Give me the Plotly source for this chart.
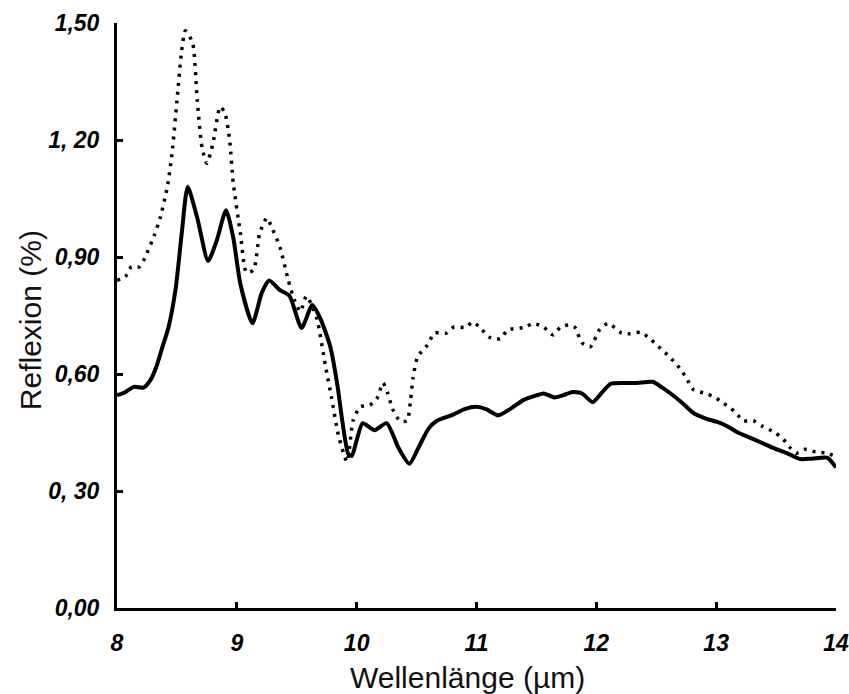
import plotly.graph_objects as go

# Solid curve (Wellenlänge in µm, Reflexion in %)
solid_x = [8.00, 8.06, 8.14, 8.22, 8.28, 8.33, 8.38, 8.43, 8.49, 8.54, 8.59, 8.67, 8.76, 8.83, 8.91, 8.97, 9.03,
           9.13, 9.21, 9.27, 9.36, 9.44, 9.54, 9.63, 9.70, 9.78, 9.84, 9.88, 9.93, 9.96, 10.00, 10.05,
           10.15, 10.25, 10.35, 10.44, 10.53, 10.60, 10.67, 10.80, 10.90, 11.00, 11.08, 11.18, 11.28,
           11.39, 11.50, 11.56, 11.65, 11.72, 11.80, 11.88, 11.97, 12.04, 12.12, 12.25, 12.34, 12.47,
           12.55, 12.62, 12.72, 12.81, 12.92, 13.01, 13.10, 13.18, 13.28, 13.37, 13.48, 13.59, 13.70,
           13.80, 13.93, 14.00]
solid_y = [0.546, 0.552, 0.567, 0.565, 0.585, 0.62, 0.67, 0.72, 0.82, 0.96, 1.08, 1.00, 0.89, 0.94, 1.02, 0.95, 0.83,
           0.73, 0.81, 0.84, 0.815, 0.80, 0.718, 0.777, 0.74, 0.67, 0.57, 0.48, 0.395, 0.39, 0.43, 0.474,
           0.456, 0.474, 0.41, 0.37, 0.42, 0.46, 0.48, 0.495, 0.51, 0.516, 0.51, 0.494, 0.51,
           0.533, 0.545, 0.55, 0.54, 0.545, 0.554, 0.55, 0.528, 0.55, 0.575, 0.577, 0.577, 0.58,
           0.565, 0.55, 0.525, 0.50, 0.485, 0.477, 0.465, 0.45, 0.437, 0.425, 0.41, 0.397, 0.382,
           0.383, 0.385, 0.36]

# Dotted curve
dot_x = [8.00, 8.07, 8.12, 8.19, 8.25, 8.31, 8.36, 8.42, 8.46, 8.50, 8.54, 8.57, 8.63, 8.67, 8.71, 8.75,
         8.80, 8.86, 8.90, 8.94, 8.97, 9.03, 9.08, 9.14, 9.19, 9.25, 9.30, 9.36, 9.43, 9.48, 9.53,
         9.58, 9.62, 9.67, 9.74, 9.79, 9.85, 9.92, 9.97, 10.03, 10.11, 10.17, 10.22, 10.26, 10.30,
         10.36, 10.42, 10.45, 10.47, 10.51, 10.59, 10.65, 10.75, 10.81, 10.92, 10.96, 11.03, 11.10,
         11.20, 11.26, 11.41, 11.47, 11.56, 11.64, 11.70, 11.77, 11.82, 11.88, 11.95, 12.03, 12.10,
         12.21, 12.28, 12.37, 12.45, 12.52, 12.59, 12.66, 12.72, 12.76, 12.81, 12.91, 12.99, 13.06,
         13.12, 13.18, 13.22, 13.31, 13.38, 13.49, 13.56, 13.62, 13.67, 13.74, 13.83, 13.93, 14.00]
dot_y = [0.84, 0.85, 0.875, 0.875, 0.91, 0.955, 1.00, 1.08, 1.167, 1.30, 1.43, 1.48, 1.45, 1.30, 1.18, 1.14,
         1.19, 1.285, 1.27, 1.20, 1.09, 0.96, 0.86, 0.867, 0.96, 1.00, 0.97, 0.925, 0.84, 0.79, 0.76,
         0.80, 0.78, 0.74, 0.62, 0.54, 0.44, 0.375, 0.48, 0.516, 0.52, 0.538, 0.577, 0.55, 0.51,
         0.48, 0.48, 0.533, 0.59, 0.645, 0.674, 0.705, 0.705, 0.72, 0.72, 0.733, 0.72, 0.695,
         0.69, 0.713, 0.72, 0.73, 0.72, 0.70, 0.72, 0.726, 0.72, 0.68, 0.67, 0.715, 0.73,
         0.705, 0.703, 0.707, 0.69, 0.67, 0.65, 0.628, 0.605, 0.585, 0.56, 0.55, 0.54, 0.525,
         0.513, 0.495, 0.48, 0.48, 0.467, 0.45, 0.433, 0.41, 0.397, 0.407, 0.40, 0.397, 0.387]

x_ticks = [8, 9, 10, 11, 12, 13, 14]
x_ticktext = ["8", "9", "10", "11", "12", "13", "14"]
y_ticks = [0.0, 0.3, 0.6, 0.9, 1.2, 1.5]
y_ticktext = ["0,00", "0, 30", "0,60", "0,90", "1, 20", "1,50"]

tickfont = dict(family="Liberation Sans", size=23, color="black", weight="bold", style="italic")
titlefont = dict(family="Liberation Sans", size=30, color="#111111")

fig = go.Figure()
fig.add_trace(go.Scatter(x=dot_x, y=dot_y, mode="lines",
                         line=dict(color="black", width=3.5, dash="3px,6px", shape="spline", smoothing=0.6),
                         showlegend=False))
fig.add_trace(go.Scatter(x=solid_x, y=solid_y, mode="lines",
                         line=dict(color="black", width=4, shape="spline", smoothing=0.6),
                         showlegend=False))

fig.update_layout(
    width=849, height=694,
    margin=dict(l=117, r=13, t=23, b=86, autoexpand=False),
    paper_bgcolor="white", plot_bgcolor="white",
    xaxis=dict(range=[8, 14], tickvals=x_ticks, ticktext=x_ticktext, showgrid=False, zeroline=False,
               showline=True, linecolor="black", linewidth=3, ticks="inside", ticklen=6, tickwidth=3,
               tickcolor="black", tickfont=tickfont, ticklabelstandoff=12, automargin=False),
    yaxis=dict(range=[0, 1.5], tickvals=y_ticks, ticktext=y_ticktext, showgrid=False, zeroline=False,
               showline=True, linecolor="black", linewidth=3, ticks="inside", ticklen=6, tickwidth=3,
               tickcolor="black", tickfont=tickfont, ticklabelstandoff=10, automargin=False),
    annotations=[
        dict(text="Wellenlänge (µm)", xref="paper", yref="paper", x=0.487, y=-0.118,
             xanchor="center", yanchor="middle", showarrow=False, font=titlefont),
        dict(text="Reflexion (%)", xref="paper", yref="paper", x=-0.121, y=0.492,
             xanchor="center", yanchor="middle", showarrow=False, textangle=-90, font=titlefont),
    ],
)

fig.write_html("out.html")
